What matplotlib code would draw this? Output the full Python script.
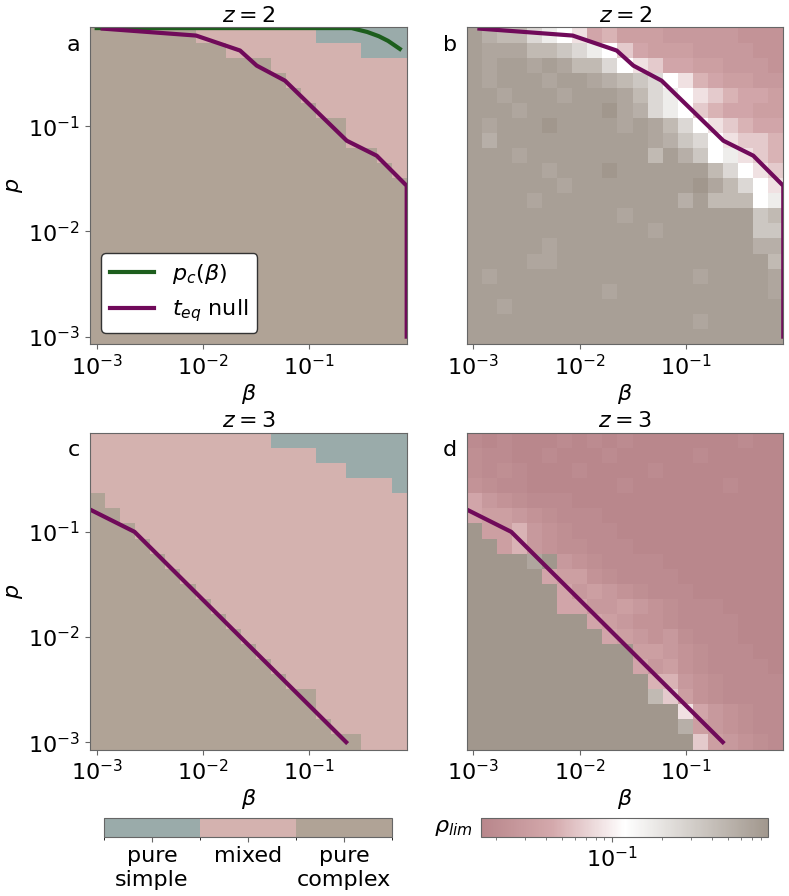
import numpy as np
import matplotlib
matplotlib.use('Agg')
import matplotlib.pyplot as plt
from matplotlib.colors import ListedColormap, BoundaryNorm, LinearSegmentedColormap, LogNorm
from matplotlib.ticker import NullFormatter

plt.rcParams['font.size'] = 16

# grid of the simulations (cell edges, log-spaced)
beta_edges = np.logspace(-3.063, -0.084, 22)
p_edges = np.logspace(-3.07, -0.06, 22)

# phase diagrams: per column (beta), number of rows counted from the top (largest p)
# that are not pure complex, and that are pure simple
z2_not_complex = [0, 0, 0, 0, 0, 0, 0, 1, 1, 2, 2, 2, 3, 4, 5, 6, 6, 8, 8, 9, 10]
z2_simple = [0, 0, 0, 0, 0, 0, 0, 0, 0, 0, 0, 0, 0, 0, 0, 1, 1, 1, 2, 2, 2]
z3_not_complex = [4, 5, 6, 7, 8, 9, 10, 11, 12, 13, 14, 15, 16, 17, 17, 19, 20, 20, 21, 21, 21]
z3_simple = [0, 0, 0, 0, 0, 0, 0, 0, 0, 0, 0, 0, 1, 1, 1, 2, 2, 3, 3, 3, 4]

# rho_lim maps, one letter per cell (rows from top), letters index into rho_levels
rho_codes = 'abcdefghijklmnopqrs'
rho_levels = [0.017, 0.019, 0.021, 0.024, 0.028, 0.033, 0.04, 0.05, 0.065, 0.085,
              0.12, 0.17, 0.25, 0.35, 0.45, 0.55, 0.65, 0.75, 0.88]

rho_z2 = [
    "rpoomlkjghfffeeeeeddd",
    "rqqqoonmlkigfffeeeedd",
    "rqrrqrqoomkjiggffeeed",
    "rqrrrqrrqponmkjhgffee",
    "rrqrrrqrrrqomlkjihggf",
    "rrrqrrrrrsqpmlkihggff",
    "rqrrrsrrrrqrqomkjihgg",
    "rprrrrrrrrrrqpnmkjiih",
    "rrrqrrrrrrrrorpnkljih",
    "rrrrrqrrrsrrrrrromkji",
    "rrrrrrqrrrrrrrrsqomkj",
    "rrrrqrrrrrrrrrproookl",
    "rrrrrrrrrrqrrrrrrrrno",
    "rrrrrrrrrrrrqrrrrrrnn",
    "rrrrrqrrrrrrrrrrrrrpp",
    "rrrrqqrrrrrrrrrrrrrro",
    "rqrrrrrrrrrrrrrqrrrrq",
    "rrrrrrrrrqrrrrrrrrrrq",
    "rrqrrrrrrrrrrrrrrrrrr",
    "rrrrrrrrrrrrrrrqrrrrr",
    "rrrrrrrrrrrrrrrrrrrrr",
]

rho_z3 = [
    "babaaabababaaaaaaabaa",
    "cbbaabaaabaaaaabaaaaa",
    "cbcbaaabaaaabaaaaaaaa",
    "dcbbaaaaaabaaaaaabaaa",
    "gedcbbbaaaaaaaaaaaaaa",
    "gffedcbbbaaaaaaaaaaaa",
    "sffhedcbbbaaaaaaaaaaa",
    "ssfhedccbbbaaaaaaaaaa",
    "ssssqsedcbbbbaaaaaaaa",
    "sssssgffdcbbbbaaaaaaa",
    "ssssssgefedcbbbaaaaaa",
    "ssssssggeefedcbbbaaaa",
    "ssssssssgfeddcbbbbaaa",
    "sssssssssgfedecbbbaaa",
    "sssssssssssffedcbbbaa",
    "sssssssssssgefdcbbbba",
    "sssssssssssshhedcbbbb",
    "ssssssssssssoifdcbbbb",
    "ssssssssssssssjgedcbb",
    "sssssssssssssspfedcbb",
    "sssssssssssssssifedcb",
]

# t_eq null curves and critical p_c(beta)
teq_z2_beta = [1.14e-3, 8.6e-3, 0.0223, 0.032, 0.059, 0.225, 0.43, 0.824, 0.824]
teq_z2_p = [0.85, 0.73, 0.526, 0.378, 0.272, 0.073, 0.0526, 0.0272, 0.001]
pc_z2_beta = [1e-3, 0.25, 0.35, 0.45, 0.55, 0.71]
pc_z2_p = [0.86, 0.86, 0.79, 0.72, 0.65, 0.545]
teq_z3_beta = [8.65e-4, 2.27e-3, 0.222]
teq_z3_p = [0.163, 0.1, 0.001]

cat_labels = ['pure\nsimple', 'mixed', 'pure\ncomplex']
col_simple = '#9aabaa'
col_mixed = '#d4b2af'
col_complex = '#b0a396'
col_teq = '#700a5a'
col_pc = '#1d5e1d'


def phase_grid(not_complex, simple):
    g = np.full((21, 21), 2)
    for j in range(21):
        g[:not_complex[j], j] = 1
        g[:simple[j], j] = 0
    return g[::-1]


def rho_grid(rows):
    return np.array([[rho_levels[rho_codes.index(ch)] for ch in r] for r in rows])[::-1]


W, H = 789, 896
fig = plt.figure(figsize=(W / 100, H / 100), dpi=100)


def px_axes(l, t, r, b):
    return fig.add_axes([l / W, 1 - b / H, (r - l) / W, (b - t) / H])


ax_a = px_axes(90, 27.5, 406.7, 344)
ax_b = px_axes(466.7, 27.5, 783.3, 344)
ax_c = px_axes(90, 433, 406.7, 749.5)
ax_d = px_axes(466.7, 433, 783.3, 749.5)

cat_cmap = ListedColormap([col_simple, col_mixed, col_complex])
cat_norm = BoundaryNorm([-0.5, 0.5, 1.5, 2.5], 3)
rho_cmap = LinearSegmentedColormap.from_list(
    'rho', [(0, '#b8868b'), (0.25, '#d4a9ac'), (0.5, '#ffffff'), (1, '#a1978d')])
rho_norm = LogNorm(vmin=0.0163, vmax=0.88)

for ax in [ax_a, ax_b, ax_c, ax_d]:
    ax.set_xscale('log')
    ax.set_yscale('log')

mesh_a = ax_a.pcolormesh(beta_edges, p_edges, phase_grid(z2_not_complex, z2_simple),
                         cmap=cat_cmap, norm=cat_norm)
mesh_b = ax_b.pcolormesh(beta_edges, p_edges, rho_grid(rho_z2), cmap=rho_cmap, norm=rho_norm)
ax_c.pcolormesh(beta_edges, p_edges, phase_grid(z3_not_complex, z3_simple),
                cmap=cat_cmap, norm=cat_norm)
ax_d.pcolormesh(beta_edges, p_edges, rho_grid(rho_z3), cmap=rho_cmap, norm=rho_norm)

ax_a.plot(pc_z2_beta, pc_z2_p, color=col_pc, lw=3, label=r'$p_c(\beta)$')
for ax in [ax_a, ax_b]:
    ax.plot(teq_z2_beta, teq_z2_p, color=col_teq, lw=3, label=r'$t_{eq}$ null')
for ax in [ax_c, ax_d]:
    ax.plot(teq_z3_beta, teq_z3_p, color=col_teq, lw=3)

ax_a.legend(loc='lower left', framealpha=1, edgecolor='0.2', fontsize=16)

titles = [r'$z=2$', r'$z=2$', r'$z=3$', r'$z=3$']
letters = ['a', 'b', 'c', 'd']
for ax, t, l in zip([ax_a, ax_b, ax_c, ax_d], titles, letters):
    ax.set_xlim(beta_edges[0], beta_edges[-1])
    ax.set_ylim(p_edges[0], p_edges[-1])
    ax.minorticks_off()
    ax.set_xticks([1e-3, 1e-2, 1e-1])
    ax.set_title(t, fontsize=16, pad=4)
    ax.set_xlabel(r'$\beta$', labelpad=2)
    ax.text(-0.03, 0.945, l, transform=ax.transAxes, ha='right', va='center', fontsize=16)
    for s in ax.spines.values():
        s.set_color('0.4')
    ax.tick_params(color='0.4')

for ax in [ax_a, ax_c]:
    ax.set_yticks([1e-3, 1e-2, 1e-1])
    ax.set_ylabel(r'$p$', labelpad=2)
for ax in [ax_b, ax_d]:
    ax.set_yticks([])

cax1 = px_axes(104, 818.3, 392, 836.7)
cb1 = fig.colorbar(mesh_a, cax=cax1, orientation='horizontal', ticks=[0, 1, 2])
cb1.ax.set_xticklabels(cat_labels, fontsize=16)
cb1.outline.set_edgecolor('0.4')
cax1.tick_params(color='0.4')

cax2 = px_axes(481, 818.3, 768.3, 836.7)
cb2 = fig.colorbar(mesh_b, cax=cax2, orientation='horizontal')
cb2.outline.set_edgecolor('0.4')
cax2.xaxis.set_minor_formatter(NullFormatter())
cax2.tick_params(which='both', color='0.4', labelsize=16)
cax2.text(-0.03, 0.5, r'$\rho_{lim}$', transform=cax2.transAxes, ha='right', va='center',
          fontsize=16)

fig.savefig('out.png', dpi=100)
